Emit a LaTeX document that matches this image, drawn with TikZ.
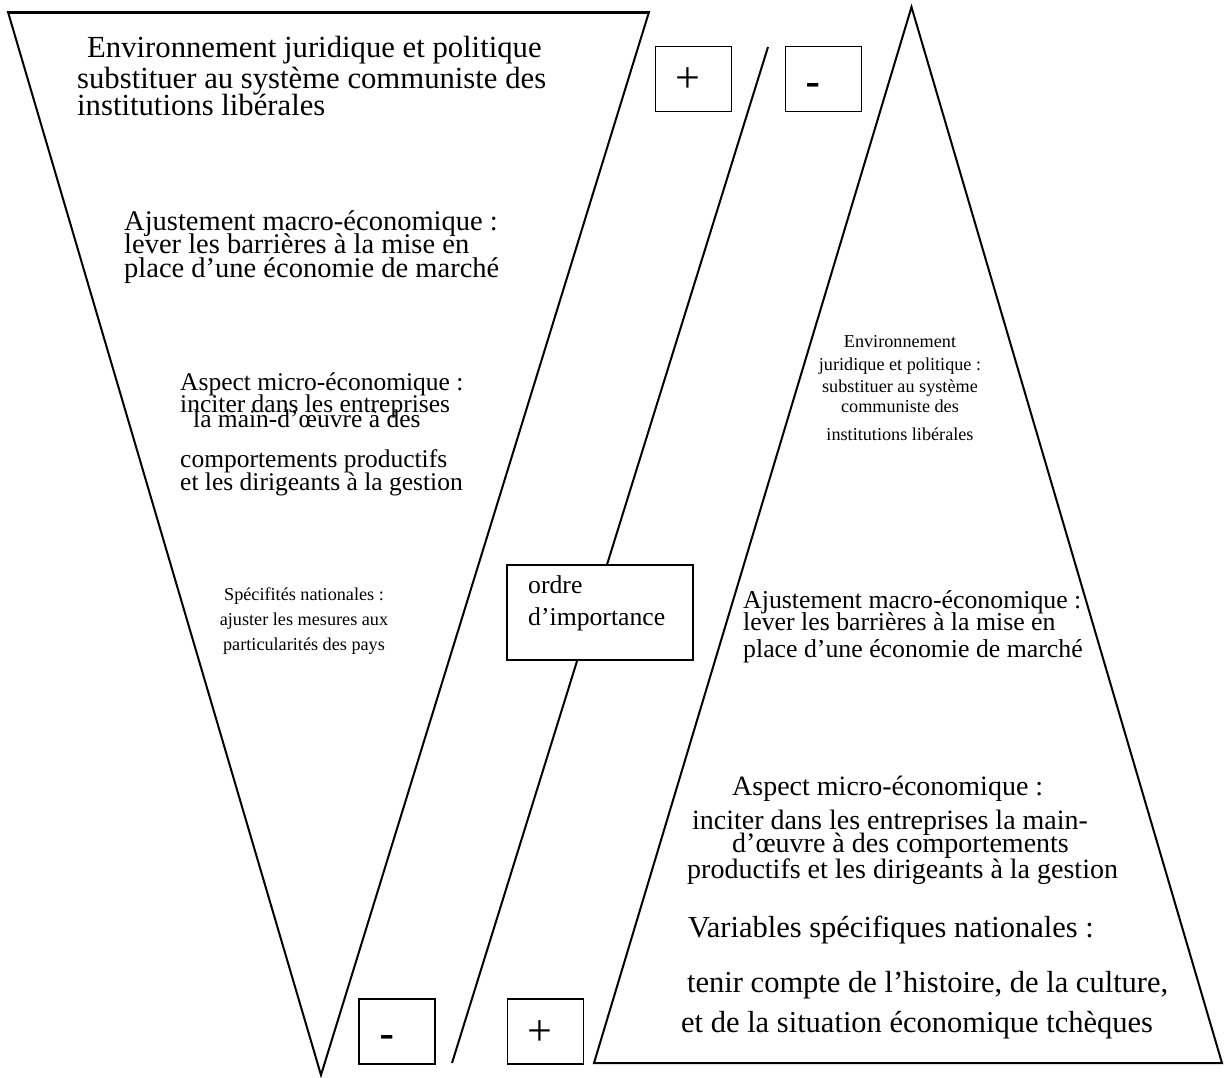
\documentclass[tikz,border=0pt]{standalone}
\usepackage{fontspec}
\setmainfont{Liberation Serif}
\newfontfamily\signfont{Liberation Sans}
\usetikzlibrary{positioning}

\newcommand\txtsize[2]{\fontsize{#1}{#2}\selectfont\lineskiplimit=-100pt\relax}

\begin{document}
\begin{tikzpicture}[x=1pt,y=-1pt,
    edgeline/.style={line width=2pt, line join=miter},
    signbox/.style={draw, line width=1.6pt, minimum width=76pt, minimum height=65pt,
        inner sep=0pt, text width=36pt, align=left, text depth=0pt},
    plussign/.style={signbox, text height=27pt, font=\fontsize{44}{44}\selectfont},
    minussign/.style={signbox, text height=36pt, font=\signfont\fontsize{46}{46}\selectfont},
    ordrebox/.style={draw, fill=white, line width=1.6pt, minimum width=186pt, minimum height=95pt},
    blocktext/.style={inner sep=0pt, align=left, anchor=base west},
    centertext/.style={inner sep=0pt, align=center, anchor=base}]

    \fill[white] (0,0) rectangle (1224,1077);
    \useasboundingbox (0,0) rectangle (1224,1077);

    \coordinate (lTopL) at (8,12);
    \coordinate (lTopR) at (649,12);
    \coordinate (lApex) at (321,1075);
    \coordinate (rApex) at (911.5,7);
    \coordinate (rBotL) at (594,1063);
    \coordinate (rBotR) at (1222,1063);
    \coordinate (slashTop) at (768,47);
    \coordinate (slashBot) at (452,1063);

    \draw[edgeline] (lTopL) -- (lTopR) -- (lApex) -- cycle;
    \draw[edgeline, line width=3pt] (lTopL) -- (lTopR);
    \draw[edgeline] (rApex) -- (rBotR) -- (rBotL) -- cycle;
    \draw[edgeline] (slashTop) -- (slashBot);

    \node[ordrebox] (ordre) at (600,612.5) {};
    \node[blocktext, font=\txtsize{25.7}{32}] (ordreTxt) at (528,625) {ordre\\d’importance};

    \node[plussign] (plusTop) at (693.5,79) {+};
    \node[minussign] (minusTop) at (823.5,79) {-};
    \node[minussign] (minusBot) at (397,1031.5) {-};
    \node[plussign] (plusBot) at (545.5,1031.5) {+};

    \node[blocktext, font=\txtsize{30.7}{29}] (envL) at (77,115)
        {\hspace*{10pt}Environnement juridique et politique\\[2pt]substituer au système communiste des\\[-2pt]institutions libérales};
    \node[blocktext, font=\txtsize{28.5}{23.5}] (macroL) at (124,277)
        {Ajustement macro-économique :\\lever les barrières à la mise en\\place d’une économie de marché};
    \node[blocktext, font=\txtsize{25.5}{22}] (microL) at (180,490)
        {Aspect micro-économique :\\inciter dans les entreprises\\[-7pt]\hspace*{13pt}la main-d’œuvre à des\\[18pt]comportements productifs\\[1pt]et les dirigeants à la gestion};
    \node[centertext, font=\txtsize{18.2}{25}] (specL) at (304,650)
        {Spécifités nationales :\\ajuster les mesures aux\\particularités des pays};

    \node[centertext, font=\txtsize{18.2}{22}] (envR) at (900,440)
        {Environnement\\[1pt]juridique et politique :\\substituer au système\\[-2pt]communiste des\\[6pt]institutions libérales};
    \node[blocktext, font=\txtsize{25.8}{22}] (macroR) at (743,657)
        {Ajustement macro-économique :\\lever les barrières à la mise en\\[5pt]place d’une économie de marché};
    \node[blocktext, font=\txtsize{28}{23}] (microR) at (687,878)
        {\hspace*{45pt}Aspect micro-économique :\\[11pt]\hspace*{5pt}inciter dans les entreprises la main-\\\hspace*{45pt}d’œuvre à des comportements\\[3pt]productifs et les dirigeants à la gestion};
    \node[blocktext, font=\txtsize{30.5}{47}] (varR) at (681,1032)
        {\hspace*{7pt}Variables spécifiques nationales :\\[8pt]\hspace*{6pt}tenir compte de l’histoire, de la culture,\\[-7pt]et de la situation économique tchèques};

\end{tikzpicture}
\end{document}
